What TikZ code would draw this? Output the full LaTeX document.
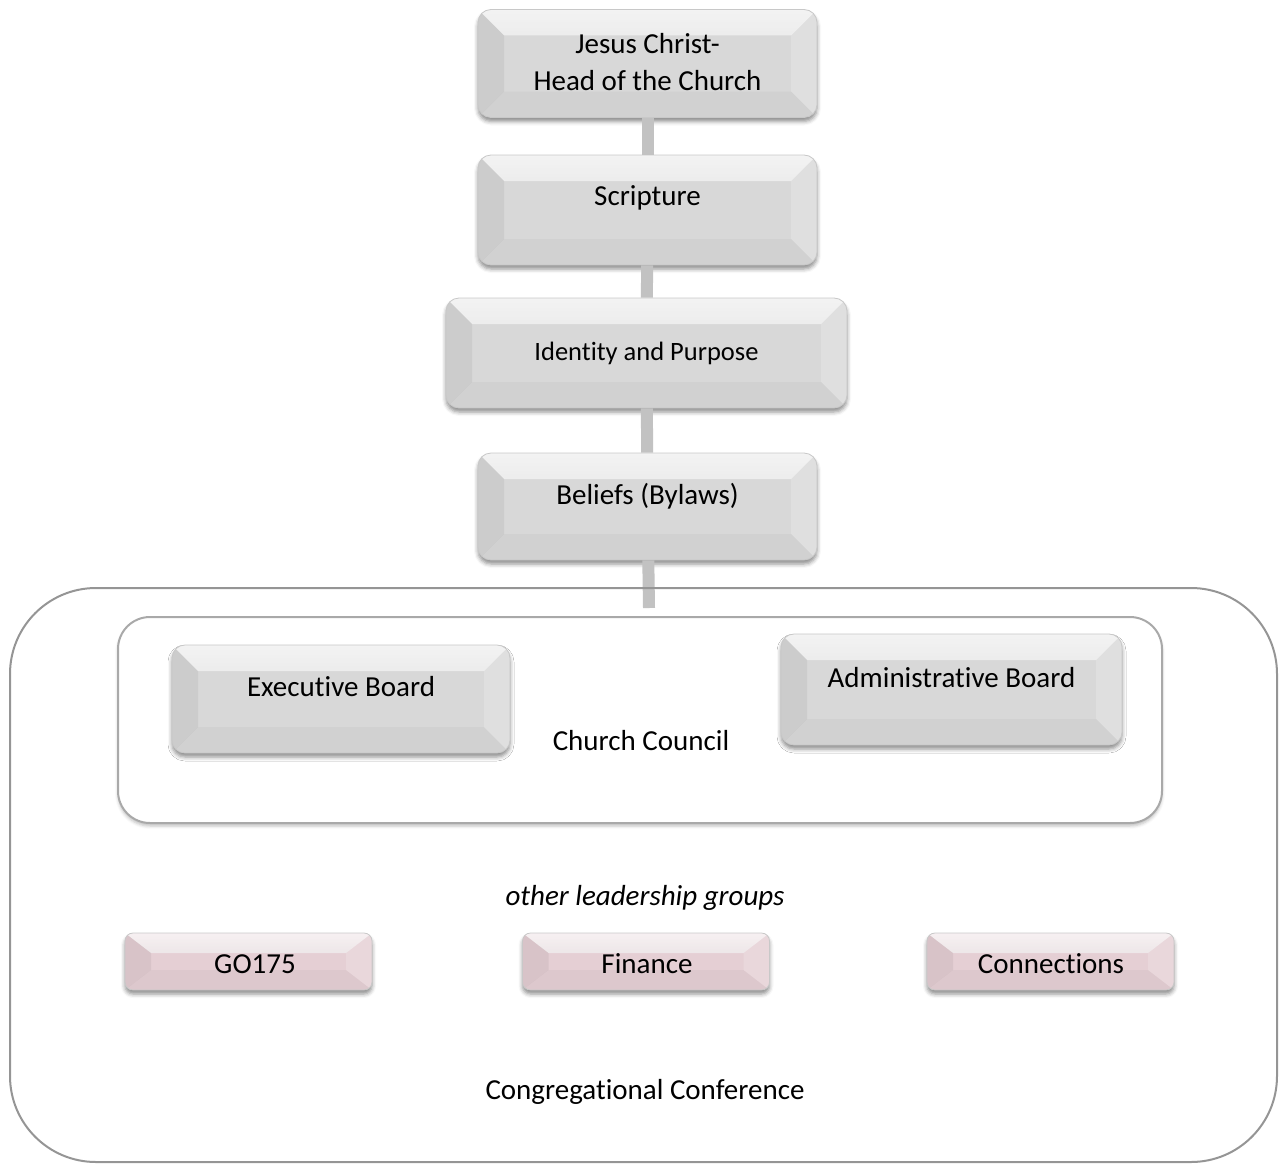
\documentclass[tikz,border=0pt]{standalone}
\usepackage{fontspec}
\setmainfont[Ligatures={NoCommon}]{Carlito}
\usetikzlibrary{positioning,shadows.blur}
\definecolor{SlabGray}{HTML}{D8D8D8}
\definecolor{SlabPink}{HTML}{E5CFD4}
\definecolor{SlabEdge}{HTML}{C8C8C8}
\definecolor{BarGray}{HTML}{C2C2C2}
\definecolor{FrameGray}{HTML}{959595}
\definecolor{PanelGray}{HTML}{A9A9A9}

\tikzset{
  bevel/.style={path picture={
    \shade[sharp corners,top color=white,bottom color=SlabGray,opacity=.7] (path picture bounding box.north west) -- (path picture bounding box.north east)
      -- ([xshift=-26pt,yshift=-#1]path picture bounding box.north east) -- ([xshift=26pt,yshift=-#1]path picture bounding box.north west) -- cycle;
    \fill[sharp corners,black,opacity=.055] (path picture bounding box.north west) -- ([xshift=26pt,yshift=-#1]path picture bounding box.north west)
      -- ([xshift=26pt,yshift=#1]path picture bounding box.south west) -- (path picture bounding box.south west) -- cycle;
    \fill[sharp corners,white,opacity=.18] (path picture bounding box.north east) -- ([xshift=-26pt,yshift=-#1]path picture bounding box.north east)
      -- ([xshift=-26pt,yshift=#1]path picture bounding box.south east) -- (path picture bounding box.south east) -- cycle;
    \fill[sharp corners,black,opacity=.03] (path picture bounding box.south west) -- ([xshift=26pt,yshift=#1]path picture bounding box.south west)
      -- ([xshift=-26pt,yshift=#1]path picture bounding box.south east) -- (path picture bounding box.south east) -- cycle;
  }},
  slab/.style={rounded corners=13pt, fill=SlabGray, draw=SlabEdge, line width=.8pt,
    blur shadow={shadow xshift=0pt, shadow yshift=-4pt, shadow blur radius=4pt, shadow opacity=45},
    bevel=26pt, minimum width=339pt, minimum height=108pt},
  chip/.style={slab, rounded corners=8pt, fill=SlabPink, bevel=20pt, minimum width=247pt, minimum height=57pt},
  lbl/.style={font=\fontsize{29}{37}\selectfont, align=center, inner sep=0pt},
  bar/.style={BarGray, line width=12pt},
  frame/.style={draw=FrameGray, line width=2pt, rounded corners=86pt},
  panel/.style={draw=PanelGray, line width=2pt, rounded corners=32pt,
    blur shadow={shadow xshift=0pt, shadow yshift=-3pt, shadow blur radius=3pt, shadow opacity=25}}
}

\begin{document}
\begin{tikzpicture}[x=1pt,y=-1pt]
  \useasboundingbox (0,0) rectangle (1279,1164);

  % council panel
  \node[panel, fill=white, minimum width=1044pt, minimum height=206pt] (council) at (640,720) {};

  % spine
  \node[slab] (jesus) at (647.5,63.5) {};
  \node[slab, minimum height=110pt] (scripture) at (647.5,210) {};
  \node[slab, minimum width=401pt, minimum height=110pt] (identity) at (646.5,353) {};
  \node[slab, minimum height=107pt] (beliefs) at (647.5,506.5) {};
  \coordinate (spineend) at (649,608);

  \draw[bar] (jesus) -- (scripture);
  \draw[bar] (scripture) -- (identity);
  \draw[bar] (identity) -- (beliefs);
  \draw[bar] (beliefs) -- (spineend);

  % conference frame, over the spine
  \node[frame, minimum width=1267pt, minimum height=574pt] (conference) at (643.5,875) {};

  \node[lbl] (jesustxt) at (647.5,62) {Jesus Christ-\\Head of the Church};
  \node[lbl] (scripturetxt) at (647.5,198) {Scripture};
  \node[lbl, font=\fontsize{26.5}{32}\selectfont] (identitytxt) at (646.5,353) {Identity and Purpose};
  \node[lbl] (beliefstxt) at (647.5,496) {Beliefs (Bylaws)};

  % council boards
  \node[slab, minimum width=338pt] (executive) at (341,699) {};
  \node[slab, minimum width=341pt, minimum height=111pt] (admin) at (951.5,689.5) {};
  \node[lbl] (executivetxt) at (341,687) {Executive Board};
  \node[lbl] (admintxt) at (951.5,678) {Administrative Board};
  \node[lbl] (counciltxt) at (641,741) {Church Council};

  % other groups
  \node[lbl, font=\fontsize{29}{37}\selectfont\itshape] (othertxt) at (645,898) {other leadership groups};
  \node[chip] (go) at (248.5,961.5) {};
  \node[chip] (finance) at (646,961.5) {};
  \node[chip] (connections) at (1050.5,961.5) {};
  \node[lbl] (gotxt) at (255,964) {GO175};
  \node[lbl] (financetxt) at (647,964) {Finance};
  \node[lbl] (connectionstxt) at (1051,964) {Connections};

  \node[lbl] (conferencetxt) at (645,1092) {Congregational Conference};
\end{tikzpicture}
\end{document}
